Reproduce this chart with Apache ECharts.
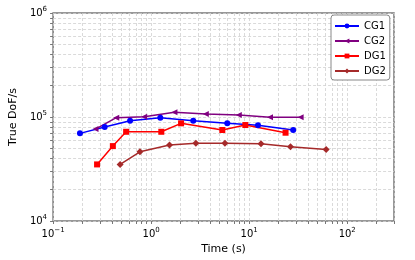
<!DOCTYPE html>
<html><head><meta charset="utf-8">
<script src="https://cdn.jsdelivr.net/npm/echarts@6/dist/echarts.min.js"></script>
<style>html,body{margin:0;padding:0;background:#fff}#c{width:415px;height:260px}</style>
</head><body><div id="c"></div>
<script>
const cg1X = [0.188, 0.336, 0.61, 1.24, 2.69, 5.98, 12.3, 28.1];
const cg1Y = [69600, 80100, 92100, 98500, 92100, 86900, 83100, 75000];
const cg2X = [0.271, 0.441, 0.85, 1.73, 3.61, 7.84, 16.3, 33.5];
const cg2Y = [76600, 98500, 100700, 111000, 106900, 104500, 99300, 99300];
const dg1X = [0.281, 0.407, 0.556, 1.27, 2.02, 5.32, 9.14, 23.5];
const dg1Y = [35000, 52500, 72100, 72100, 86900, 75000, 83700, 70600];
const dg2X = [0.483, 0.769, 1.54, 2.86, 5.66, 13.2, 26.4, 60.9];
const dg2Y = [35000, 46300, 53700, 55800, 55800, 55300, 51700, 48800];
const xTickLabels = [0.1, 1, 10, 100];
const yTickLabels = [1e4, 1e5, 1e6];
const xGridVals = [0.1,0.2,0.3,0.4,0.5,0.6,0.7,0.8,0.9,1,2,3,4,5,6,7,8,9,10,20,30,40,50,60,70,80,90,100,200,300];
const yGridVals = [1e4,2e4,3e4,4e4,5e4,6e4,7e4,8e4,9e4,1e5,2e5,3e5,4e5,5e5,6e5,7e5,8e5,9e5,1e6];

const pair = (xs, ys) => xs.map((x, i) => [x, ys[i]]);
const fmt = v => { const e = Math.round(Math.log10(v)); return '{a|10}{b|' + (e < 0 ? '\u2212' + (-e) : e) + '}'; };
const FONT = 'DejaVu Sans';
const labelRich = { a: { fontSize: 10, fontFamily: FONT, color: '#000' }, b: { fontSize: 7, fontFamily: FONT, color: '#000', padding: [0, 0, 7, 0] } };
const gridLine = { show: true, lineStyle: { color: '#d0d0d0', type: [3, 2], width: 0.8 } };

function mk(name, xs, ys, color, symbol, size, rot) {
  return { name, type: 'line', data: pair(xs, ys), symbol, symbolSize: size, symbolRotate: rot || 0,
    lineStyle: { color, width: 1.5 }, itemStyle: { color }, color, z: 3 };
}

const chart = echarts.init(document.getElementById('c'), null, { renderer: 'canvas' });
chart.setOption({
  animation: false,
  backgroundColor: '#fff',
  grid: { left: 49, right: 21, top: 13, bottom: 39, show: true, borderColor: '#777', borderWidth: 1.5, backgroundColor: 'transparent' },
  xAxis: {
    type: 'log', logBase: 10, min: 0.1, max: 300,
    name: 'Time (s)', nameLocation: 'middle', nameGap: 18,
    nameTextStyle: { fontSize: 11, fontFamily: FONT, color: '#000' },
    axisLine: { show: false },
    axisTick: { show: true, length: 3, lineStyle: { color: '#777' }, customValues: xGridVals },
    axisLabel: { customValues: xTickLabels, formatter: fmt, rich: labelRich, margin: 6 },
    splitLine: gridLine
  },
  yAxis: {
    type: 'log', logBase: 10, min: 1e4, max: 1e6,
    name: 'True DoF/s', nameLocation: 'middle', nameGap: 23,
    nameTextStyle: { fontSize: 11, fontFamily: FONT, color: '#000' },
    axisLine: { show: false },
    axisTick: { show: true, length: 3, lineStyle: { color: '#777' }, customValues: yGridVals },
    axisLabel: { customValues: yTickLabels, formatter: fmt, rich: labelRich, margin: 6 },
    splitLine: gridLine
  },
  legend: {
    left: 331, top: 15, orient: 'vertical',
    backgroundColor: '#fff', borderColor: '#888', borderWidth: 1, borderRadius: 3,
    padding: [6, 4, 4, 3], itemGap: 5, itemWidth: 24, itemHeight: 6,
    textStyle: { fontSize: 10, fontFamily: FONT, color: '#000' },
    data: ['CG1', 'CG2', 'DG1', 'DG2']
  },
  series: [
    mk('CG1', cg1X, cg1Y, '#0000ff', 'circle', 6),
    mk('CG2', cg2X, cg2Y, '#800080', 'triangle', 6, 90),
    mk('DG1', dg1X, dg1Y, '#ff0000', 'rect', 6),
    mk('DG2', dg2X, dg2Y, '#a52a2a', 'diamond', 7)
  ]
});
</script></body></html>
